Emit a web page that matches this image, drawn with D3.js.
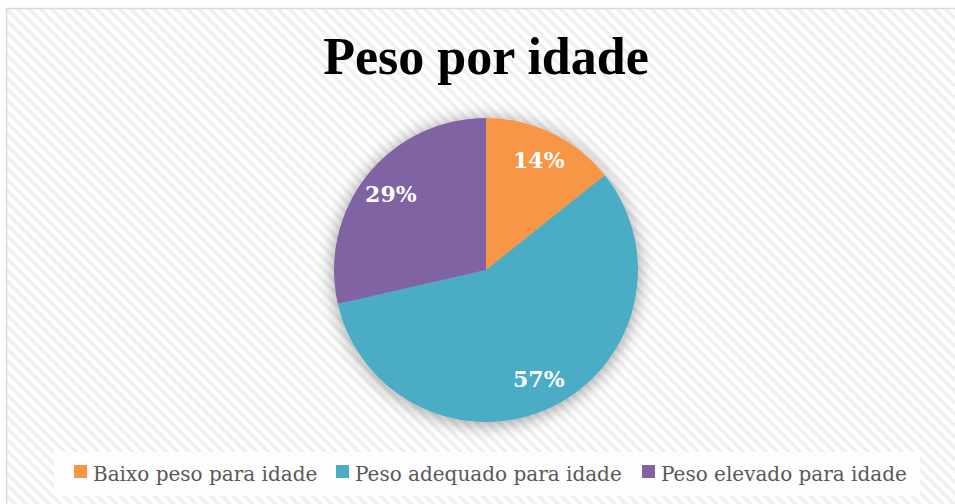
<!DOCTYPE html>
<html>
<head>
<meta charset="utf-8">
<script src="https://cdn.jsdelivr.net/npm/d3@7"></script>
<style>
  body { margin: 0; background: #fff; }
  svg { display: block; }
</style>
</head>
<body>
<svg></svg>
<script>
const categories = ["Baixo peso para idade", "Peso adequado para idade", "Peso elevado para idade"];
const values = [14.3, 57.1, 28.6];
const colors = ["#F79646", "#4BACC6", "#8064A2"];
const title = "Peso por idade";

const width = 955, height = 504;
const cx = 486, cy = 270, radius = 152;

const svg = d3.select("svg")
    .attr("width", width)
    .attr("height", height);

const defs = svg.append("defs");

// diagonal stripe background
const pat = defs.append("pattern")
    .attr("id", "stripes")
    .attr("patternUnits", "userSpaceOnUse")
    .attr("width", 8)
    .attr("height", 8)
    .attr("patternTransform", "rotate(45)");
pat.append("rect").attr("width", 8).attr("height", 8).attr("fill", "#ffffff");
pat.append("rect").attr("width", 8).attr("height", 3.5).attr("fill", "#efefef");

const shadow = defs.append("filter")
    .attr("id", "glow")
    .attr("x", "-30%").attr("y", "-30%")
    .attr("width", "160%").attr("height", "160%");
shadow.append("feGaussianBlur")
    .attr("in", "SourceAlpha")
    .attr("stdDeviation", 9)
    .attr("result", "blur");
shadow.append("feOffset").attr("in", "blur").attr("dy", 2).attr("result", "off");
shadow.append("feComponentTransfer").attr("in", "off").attr("result", "soft")
    .append("feFuncA").attr("type", "linear").attr("slope", 0.4);
const merge = shadow.append("feMerge");
merge.append("feMergeNode").attr("in", "soft");
merge.append("feMergeNode").attr("in", "SourceGraphic");

// chart area
svg.append("rect")
    .attr("x", 6.5).attr("y", 8.5)
    .attr("width", width).attr("height", height)
    .attr("fill", "url(#stripes)")
    .attr("stroke", "#d9d9d9")
    .attr("stroke-width", 1.5);

// title
svg.append("text")
    .attr("x", cx)
    .attr("y", 74)
    .attr("text-anchor", "middle")
    .style("font-family", "'Liberation Serif', serif")
    .style("font-weight", "bold")
    .style("font-size", "52px")
    .style("fill", "#000")
    .text(title);

// pie
const pie = d3.pie().sort(null).value(d => d);
const arc = d3.arc().innerRadius(0).outerRadius(radius);
const labelArc = d3.arc().innerRadius(radius * 0.8).outerRadius(radius * 0.8);

const g = svg.append("g")
    .attr("transform", `translate(${cx},${cy})`);

g.append("g")
    .attr("filter", "url(#glow)")
    .selectAll("path")
    .data(pie(values))
    .enter().append("path")
    .attr("d", arc)
    .attr("fill", (d, i) => colors[i]);

const total = d3.sum(values);
g.selectAll("text.lbl")
    .data(pie(values))
    .enter().append("text")
    .attr("class", "lbl")
    .attr("transform", d => `translate(${labelArc.centroid(d)})`)
    .attr("text-anchor", "middle")
    .attr("dy", "0.35em")
    .style("font-family", "'DejaVu Serif', serif")
    .style("font-weight", "bold")
    .style("font-size", "22px")
    .style("fill", "#fff")
    .text(d => Math.round(d.value / total * 100) + "%");

// legend
svg.append("rect")
    .attr("x", 54).attr("y", 452)
    .attr("width", 866).attr("height", 44)
    .attr("fill", "#fdfdfd");

const legendX = [74, 336, 642];
const legend = svg.append("g");
categories.forEach((c, i) => {
    legend.append("rect")
        .attr("x", legendX[i])
        .attr("y", 465)
        .attr("width", 13)
        .attr("height", 13)
        .attr("fill", colors[i]);
    legend.append("text")
        .attr("x", legendX[i] + 19)
        .attr("y", 481)
        .style("font-family", "'DejaVu Serif', serif")
        .style("font-size", "20px")
        .style("fill", "#595959")
        .text(c);
});
</script>
</body>
</html>
